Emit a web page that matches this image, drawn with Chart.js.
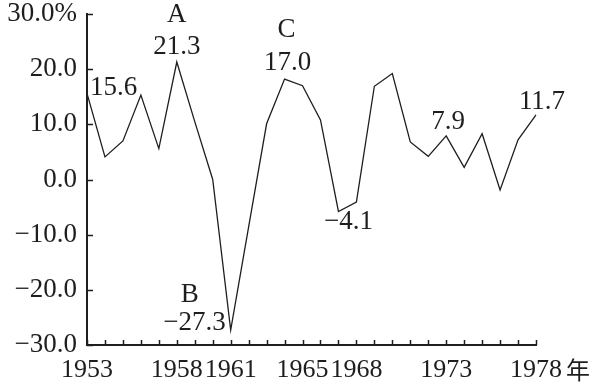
<!DOCTYPE html>
<html>
<head>
<meta charset="utf-8">
<script src="https://cdn.jsdelivr.net/npm/chart.js@4/dist/chart.umd.min.js"></script>
<style>
  html, body { margin: 0; padding: 0; background: #fff; }
  #wrap { width: 591px; height: 386px; position: relative; }
</style>
</head>
<body>
<div id="wrap"><canvas id="c" width="591" height="386"></canvas></div>
<script>
// ---- data ----
const years = [1953,1954,1955,1956,1957,1958,1959,1960,1961,1962,1963,1964,1965,1966,1967,1968,1969,1970,1971,1972,1973,1974,1975,1976,1977,1978];
const growth = [15.6,4.1,7.0,15.3,5.6,21.3,10.5,0.0,-27.3,-8.6,10.1,18.2,17.0,10.8,-5.8,-4.1,16.9,19.2,6.8,4.2,7.9,2.2,8.3,-1.9,7.2,11.7];
const shownYears = [1953,1958,1961,1965,1968,1973,1978];
const yTickValues = [30,20,10,0,-10,-20,-30];
const yTickLabels = ['30.0%','20.0','10.0','0.0','\u221210.0','\u221220.0','\u221230.0'];
const noteYears = [1953,1958,1958,1961,1961,1965,1965,1968,1973,1978];
const noteTexts = ['15.6','A','21.3','B','\u221227.3','C','17.0','\u22124.1','7.9','11.7'];
const axisUnit = '年';

// ---- styles (pixel offsets for notes relative to their point) ----
const noteStyle = [
  {dx: 3, dy: -6, align: 'left'},
  {dx: 0, dy: -47, align: 'center'},
  {dx: 0, dy: -15, align: 'center'},
  {dx: -41, dy: -35, align: 'center'},
  {dx: -5, dy: -7, align: 'right'},
  {dx: -16, dy: -56, align: 'center'},
  {dx: -15, dy: -23, align: 'center'},
  {dx: -8, dy: 20, align: 'center'},
  {dx: 2, dy: -14, align: 'center'},
  {dx: 6, dy: -13, align: 'center'}
];
const FONT = '"Liberation Serif", "Times New Roman", serif';
const FSIZE = 27;
const INK = '#1e1e1e';

const inwardTicks = {
  id: 'inwardTicks',
  afterDatasetsDraw(chart) {
    const ctx = chart.ctx, x = chart.scales.x, y = chart.scales.y;
    const area = chart.chartArea;
    ctx.save();
    ctx.strokeStyle = INK;
    ctx.lineWidth = 1.5;
    ctx.beginPath();
    years.forEach((yr, i) => {
      const px = Math.round(x.getPixelForValue(i)) + 0.5;
      ctx.moveTo(px, area.bottom);
      ctx.lineTo(px, area.bottom - 5);
    });
    yTickValues.forEach(v => {
      const py = Math.round(y.getPixelForValue(v)) + 0.5;
      ctx.moveTo(area.left, py);
      ctx.lineTo(area.left + 6, py);
    });
    ctx.stroke();
    // notes
    ctx.fillStyle = INK;
    ctx.font = FSIZE + 'px ' + FONT;
    ctx.textBaseline = 'middle';
    noteTexts.forEach((t, k) => {
      const i = years.indexOf(noteYears[k]);
      const s = noteStyle[k];
      const px = x.getPixelForValue(i);
      const py = y.getPixelForValue(growth[i]);
      ctx.textAlign = s.align;
      ctx.fillText(t, px + s.dx, py + s.dy);
    });
    // unit
    ctx.font = '24px "Noto Sans CJK SC", sans-serif';
    ctx.textAlign = 'center';
    ctx.fillText(axisUnit, area.right + 42, area.bottom + 25);
    ctx.restore();
  }
};

new Chart(document.getElementById('c'), {
  type: 'line',
  data: {
    labels: years.map(String),
    datasets: [{
      data: growth,
      borderColor: INK,
      borderWidth: 1.3,
      pointRadius: 0,
      tension: 0,
      fill: false
    }]
  },
  options: {
    responsive: false,
    animation: false,
    devicePixelRatio: 1,
    layout: { padding: { top: 14, right: 55, left: 0, bottom: 0 } },
    plugins: { legend: { display: false }, tooltip: { enabled: false } },
    scales: {
      x: {
        type: 'category',
        offset: false,
        grid: { display: true, drawOnChartArea: false, drawTicks: false },
        border: { display: true, color: INK, width: 2 },
        afterFit(s) { s.height = 41; s.paddingLeft = 0; s.paddingRight = 0; },
        ticks: {
          autoSkip: false,
          maxRotation: 0,
          padding: 10,
          color: INK,
          font: { family: FONT, size: 26 },
          callback(v, i) { return shownYears.includes(years[i]) ? String(years[i]) : ''; }
        }
      },
      y: {
        min: -30, max: 30,
        grid: { display: true, drawOnChartArea: false, drawTicks: false },
        border: { display: true, color: INK, width: 2 },
        afterFit(s) { s.width = 87; s.paddingTop = 0; s.paddingBottom = 0; },
        afterBuildTicks(s) { s.ticks = yTickValues.map(v => ({ value: v })); },
        ticks: {
          padding: 10,
          color: INK,
          font: { family: FONT, size: FSIZE },
          callback(v) { const k = yTickValues.indexOf(v); return k >= 0 ? yTickLabels[k] : ''; }
        }
      }
    }
  },
  plugins: [inwardTicks]
});
</script>
</body>
</html>
